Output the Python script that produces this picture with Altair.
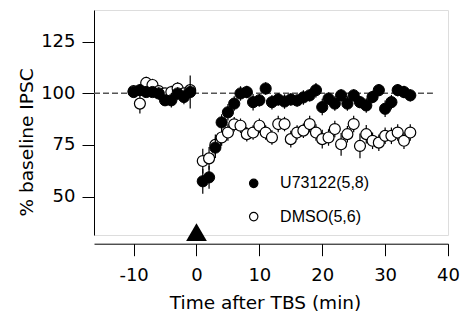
import altair as alt
import pandas as pd

# ---- data ----
x_base = [-10, -9, -8, -7, -6, -5, -4, -3, -2, -1]
x_post = list(range(1, 35))

u_base = [100.6, 101.5, 100.6, 100.6, 99.9, 96.6, 96.6, 99.9, 98.2, 100.6]
u_post = [57.4, 59.3, 73.7, 85.9, 90.8, 95.0, 99.9, 100.6, 95.7, 96.6,
          102.3, 95.7, 97.0, 96.0, 97.0, 96.5, 98.0, 99.0, 101.5, 93.3,
          97.4, 95.0, 99.0, 95.0, 99.0, 95.7, 94.1, 98.2, 101.5, 92.5,
          95.7, 101.5, 100.6, 99.0]
u_base_sem = [2.5, 3.0, 2.0, 2.5, 3.0, 2.5, 3.5, 3.0, 3.5, 8.0]
u_post_sem = [6.0, 5.5, 5.0, 4.0, 4.0, 3.5, 3.5, 3.0, 4.0, 3.0,
              3.0, 3.5, 3.0, 3.5, 3.0, 3.0, 3.5, 3.0, 3.5, 4.0,
              3.0, 3.5, 3.0, 3.5, 3.0, 3.0, 3.5, 3.0, 3.0, 4.0,
              3.5, 3.0, 3.0, 3.0]

d_base = [101.0, 95.0, 105.0, 104.0, 101.0, 100.0, 100.6, 102.3, 100.0, 101.5]
d_post = [67.2, 68.5, 75.0, 78.6, 81.0, 85.0, 84.3, 80.2, 81.0, 84.3,
          81.0, 78.6, 85.1, 85.1, 77.8, 81.0, 81.9, 85.1, 81.0, 77.8,
          78.6, 82.7, 75.3, 80.2, 85.1, 74.5, 80.2, 77.0, 76.1, 79.4,
          79.4, 81.0, 77.0, 81.0]
d_base_sem = [2.5, 4.8, 3.0, 3.0, 2.5, 2.5, 3.0, 3.0, 2.5, 3.0]
d_post_sem = [6.0, 5.5, 5.0, 4.0, 4.0, 3.5, 3.5, 3.5, 3.5, 3.5,
              3.5, 3.5, 4.0, 3.5, 4.0, 3.5, 3.5, 4.0, 4.0, 4.5,
              4.0, 4.0, 5.5, 4.0, 4.0, 6.0, 4.5, 4.0, 4.0, 4.0,
              4.0, 4.0, 4.0, 4.0]

legend_labels = ["U73122(5,8)", "DMSO(5,6)"]
x_ticks = [-10, 0, 10, 20, 30, 40]
y_ticks = [50, 75, 100, 125]

# ---- tables ----
def table(xs, ys, sems, group):
    return pd.DataFrame({"x": xs, "y": ys, "lo": [a - b for a, b in zip(ys, sems)],
                         "hi": [a + b for a, b in zip(ys, sems)], "g": group})

u_df = table(x_base + x_post, u_base + u_post, u_base_sem + u_post_sem, "U")
d_df = table(x_base + x_post, d_base + d_post, d_base_sem + d_post_sem, "D")

X_DOM = [-16.3, 40]
Y_DOM = [31.4, 140.3]
FONT = "DejaVu Sans"

xs = alt.Scale(domain=X_DOM, nice=False, zero=False)
ys = alt.Scale(domain=Y_DOM, nice=False, zero=False)

x_axis = alt.Axis(values=x_ticks, title="Time after TBS (min)", grid=False,
                  offset=8.7, tickSize=12, labelPadding=11, titlePadding=9,
                  titleX=171,
                  labelExpr="'' + datum.value",
                  labelFont=FONT, labelFontSize=18, titleFont=FONT, titleFontSize=18.5,
                  titleFontWeight="normal", labelColor="black", titleColor="black",
                  domainColor="black", tickColor="black", labelFlush=False)
y_axis = alt.Axis(values=y_ticks, title="% baseline IPSC", grid=False,
                  tickSize=12, labelPadding=7,
                  titleX=-58, titleY=132, titleBaseline="bottom", titleAngle=270,
                  labelFont=FONT, labelFontSize=18, titleFont=FONT, titleFontSize=18.5,
                  titleFontWeight="normal", labelColor="black", titleColor="black",
                  domainColor="black", tickColor="black")

X = alt.X("x:Q", scale=xs, axis=x_axis)
Y = alt.Y("y:Q", scale=ys, axis=y_axis)

# dashed baseline
base_df = pd.DataFrame({"x": [X_DOM[0]], "x2": [37.6], "y": [100]})
dashed = alt.Chart(base_df).mark_rule(color="#555555", strokeDash=[6, 3], strokeWidth=1.3).encode(
    x=alt.X("x:Q", scale=xs, axis=x_axis), x2="x2:Q", y=alt.Y("y:Q", scale=ys, axis=y_axis))

def err(df):
    return alt.Chart(df).mark_rule(color="black", strokeWidth=1.2).encode(
        x=alt.X("x:Q", scale=xs), y=alt.Y("lo:Q", scale=ys), y2="hi:Q")

d_err = err(d_df)
u_err = err(u_df)
d_pts = alt.Chart(d_df).mark_point(shape="circle", filled=True, fill="white", stroke="black",
                                   strokeWidth=1.2, size=120, opacity=1).encode(x=X, y=Y)
u_pts = alt.Chart(u_df).mark_point(shape="circle", filled=True, fill="black", stroke="black",
                                   strokeWidth=1, size=125, opacity=1).encode(x=X, y=Y)

# TBS triangle
tri_df = pd.DataFrame({"x": [0], "y": [32.8]})
tri = alt.Chart(tri_df).mark_point(shape="triangle-up", filled=True, color="black",
                                   size=430, opacity=1).encode(x=X, y=Y)

# legend
leg_df = pd.DataFrame({"x": [9.1, 9.1], "y": [56.4, 40.3], "tx": [13.3, 13.3],
                       "label": legend_labels, "fill": ["black", "white"]})
leg_pts = alt.Chart(leg_df).mark_point(shape="circle", filled=True, stroke="black",
                                       strokeWidth=1.2, size=70, opacity=1).encode(
    x=X, y=Y, fill=alt.Fill("fill:N", scale=None))
leg_txt = alt.Chart(leg_df).mark_text(align="left", baseline="middle", font="Liberation Sans",
                                      fontSize=16, color="black").encode(
    x=alt.X("tx:Q", scale=xs), y=Y, text="label:N")

chart = alt.layer(dashed, d_err, d_pts, u_err, u_pts, tri, leg_pts, leg_txt).properties(
    width=354, height=225,
    padding={"left": 86, "top": 2, "right": 13, "bottom": 88},
    autosize=alt.AutoSizeParams(type="none"),
).configure_view(stroke=None).configure(background="white")

chart.save("out.html", embed_options={"renderer": "svg", "actions": False})
